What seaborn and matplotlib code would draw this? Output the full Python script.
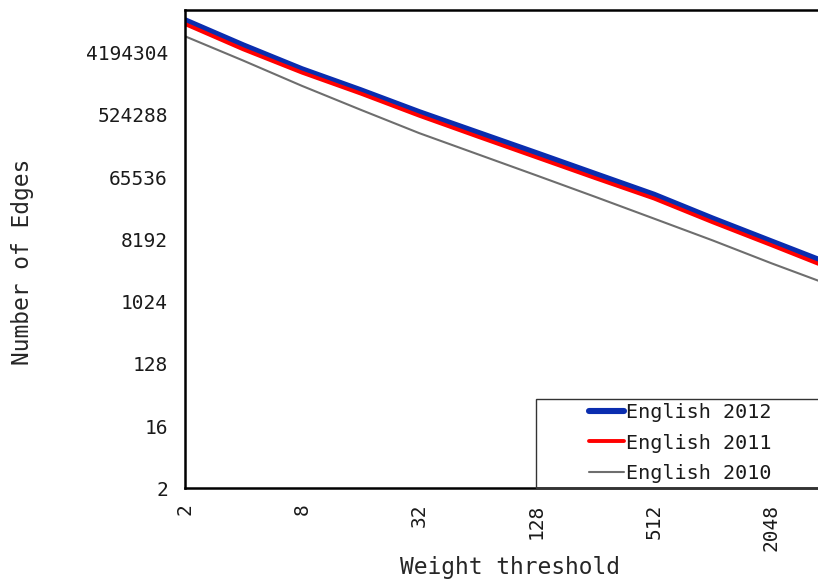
import numpy as np
import pandas as pd
import seaborn as sns
import matplotlib.pyplot as plt
from matplotlib.patches import Rectangle
from matplotlib.ticker import FixedLocator, FuncFormatter, NullLocator, NullFormatter

# values (edges remaining above each weight threshold)
thresholds = [2, 4, 8, 16, 32, 64, 128, 256, 512, 1024, 2048, 4096]
edges_2012 = [12460000, 5350000, 2410000, 1196000, 574000, 289000,
              145500, 72700, 36400, 16400, 7640, 3570]
edges_2011 = [11000000, 4690000, 2156000, 1071000, 510000, 253000,
              126600, 63300, 32100, 14500, 6750, 3100]
edges_2010 = [7300000, 3220000, 1384000, 623000, 285000, 140500,
              69300, 33900, 16400, 7910, 3690, 1780]

x_ticks = [2, 8, 32, 128, 512, 2048]
x_minor = [4, 16, 64, 256, 1024, 4096]
y_ticks = [2, 16, 128, 1024, 8192, 65536, 524288, 4194304]

series = [
    ("English 2012", edges_2012, "#0a2daf", 4.4),
    ("English 2011", edges_2011, "#ff0000", 2.8),
    ("English 2010", edges_2010, "#6e6e6e", 1.5),
]

sns.set_style("white")
plt.rcParams["font.family"] = ["DejaVu Sans Mono", "DejaVu Sans"]

fig = plt.figure(figsize=(8.18, 5.82), dpi=100)
# axes runs a little past the right edge of the picture, as in the original
ax = fig.add_axes([184.5 / 818, (582 - 488.3) / 582, (830 - 184.5) / 818, (488.3 - 9.5) / 582])

for label, vals, color, lw in series:
    df = pd.DataFrame({"threshold": thresholds, "edges": vals})
    sns.lineplot(data=df, x="threshold", y="edges", color=color, linewidth=lw,
                 label=label, ax=ax, legend=False)

ax.set_xscale("log", base=2)
ax.set_yscale("log", base=2)
ax.set_xlim(2, 4096)
ax.set_ylim(2, 2 ** 24.08)

ax.xaxis.set_major_locator(FixedLocator(x_ticks))
ax.xaxis.set_minor_locator(FixedLocator(x_minor))
ax.xaxis.set_minor_formatter(NullFormatter())
ax.yaxis.set_major_locator(FixedLocator(y_ticks))
ax.yaxis.set_minor_locator(NullLocator())
fmt = FuncFormatter(lambda v, p: f"{int(round(v))}")
ax.xaxis.set_major_formatter(fmt)
ax.yaxis.set_major_formatter(fmt)

ax.tick_params(axis="both", which="both", direction="in", length=7, width=1.3,
               color="black", labelsize=14, labelcolor="#1a1a1a")
ax.tick_params(axis="x", which="major", pad=11, labelrotation=90)
ax.tick_params(axis="y", which="major", pad=12)

for s in ax.spines.values():
    s.set_linewidth(1.8)
    s.set_color("black")

ax.set_xlabel("Weight threshold", fontsize=16.5)
ax.set_ylabel("Number of Edges", fontsize=16.5)
ax.xaxis.set_label_coords(0.504, -0.141)
ax.yaxis.set_label_coords(-0.233, 0.473)

# legend box like the original: anchored to the bottom spine, open to the right
x0 = (536 - 184.5) / (830 - 184.5)
h = (488.3 - 398.5) / (488.3 - 9.5)
ax.add_patch(Rectangle((x0, 0), 1 - x0, h, transform=ax.transAxes, fill=False,
                       edgecolor="#333333", linewidth=1.0, clip_on=False, zorder=5))
handles, labels = ax.get_legend_handles_labels()
leg = ax.legend(handles, labels, loc="upper left",
                bbox_to_anchor=((592 - 184.5) / (830 - 184.5) - 0.01, h - 0.004),
                frameon=False, fontsize=14.5, handlelength=1.75, handletextpad=0.1,
                labelspacing=0.55, borderaxespad=0, borderpad=0.15)
for t in leg.get_texts():
    t.set_color("#1a1a1a")

fig.savefig("out.png", dpi=100)
